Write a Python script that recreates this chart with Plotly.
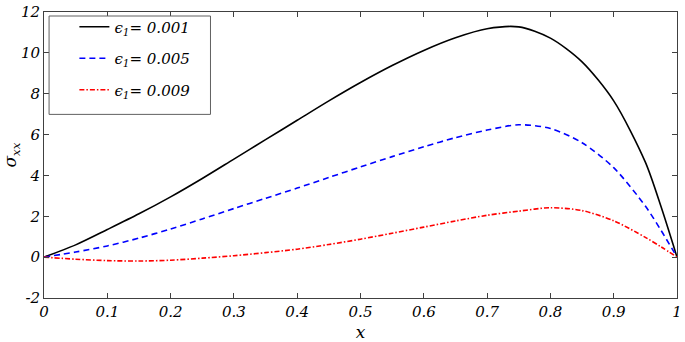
import plotly.graph_objects as go

x_black = [0, 0.05, 0.1, 0.15, 0.2, 0.25, 0.3, 0.35, 0.4, 0.45, 0.5, 0.55, 0.6, 0.65, 0.7, 0.75,
           0.8, 0.85, 0.9, 0.95, 0.975, 1.0]
y_black = [0, 0.6, 1.35, 2.12, 2.95, 3.85, 4.8, 5.75, 6.7, 7.65, 8.55, 9.38, 10.12, 10.74, 11.18, 11.27,
           10.72, 9.56, 7.65, 4.65, 2.45, 0]

x_blue = [0, 0.05, 0.1, 0.15, 0.2, 0.25, 0.3, 0.35, 0.4, 0.45, 0.5, 0.55, 0.6, 0.65, 0.7, 0.75,
          0.8, 0.85, 0.9, 0.95, 0.975, 1.0]
y_blue = [0, 0.25, 0.55, 0.93, 1.38, 1.87, 2.38, 2.88, 3.38, 3.9, 4.42, 4.92, 5.4, 5.85, 6.22, 6.48,
          6.3, 5.6, 4.38, 2.5, 1.3, 0]

x_red = [0, 0.05, 0.1, 0.15, 0.2, 0.25, 0.3, 0.35, 0.4, 0.45, 0.5, 0.55, 0.6, 0.65, 0.7, 0.75,
         0.8, 0.85, 0.9, 0.95, 0.975, 1.0]
y_red = [0, -0.1, -0.17, -0.19, -0.15, -0.05, 0.07, 0.22, 0.39, 0.62, 0.88, 1.17, 1.47, 1.77, 2.05, 2.25,
         2.42, 2.28, 1.78, 0.97, 0.5, 0]

names = ["<i>ϵ</i><sub><i>1</i></sub><i>= 0.001</i>",
         "<i>ϵ</i><sub><i>1</i></sub><i>= 0.005</i>",
         "<i>ϵ</i><sub><i>1</i></sub><i>= 0.009</i>"]

x_ticks = [0, 0.1, 0.2, 0.3, 0.4, 0.5, 0.6, 0.7, 0.8, 0.9, 1]
x_tick_text = ["0", "0.1", "0.2", "0.3", "0.4", "0.5", "0.6", "0.7", "0.8", "0.9", "1"]
y_ticks = [-2, 0, 2, 4, 6, 8, 10, 12]
y_tick_text = ["-2", "0", "2", "4", "6", "8", "10", "12"]

SERIF = "DejaVu Serif"

fig = go.Figure()
fig.add_trace(go.Scatter(x=x_black, y=y_black, mode="lines", name=names[0], legendgroup="a",
                         line=dict(color="black", width=1.6, shape="spline", smoothing=0.8)))
fig.add_trace(go.Scatter(x=x_blue, y=y_blue, mode="lines", name=names[1], legendgroup="b",
                         line=dict(color="#0000ff", width=1.6, dash="6px,4px", shape="spline", smoothing=0.8)))
fig.add_trace(go.Scatter(x=x_red, y=y_red, mode="lines", name=names[2], legendgroup="c",
                         line=dict(color="#ff0000", width=1.6, dash="5px,2px,1.5px,2px", shape="spline", smoothing=0.8)))

axis_common = dict(
    showline=True, linecolor="#404040", linewidth=1, mirror="ticks",
    ticks="inside", ticklen=5, tickcolor="#404040", showgrid=False, zeroline=False,
    ticklabeloverflow="allow",
    tickfont=dict(family=SERIF, size=15, color="black", style="italic"),
)

fig.add_shape(type="rect", xref="paper", yref="paper", x0=0.008, x1=0.263, y0=0.642, y1=0.986,
              line=dict(color="#606060", width=1), fillcolor="white", layer="above")

fig.update_layout(
    width=685, height=342,
    margin=dict(l=44, r=3, t=5, b=44),
    paper_bgcolor="white", plot_bgcolor="white",
    font=dict(family=SERIF, color="black", size=15),
    xaxis=dict(range=[0, 1], tickvals=x_ticks, ticktext=x_tick_text,
               title=dict(text="<i>x</i>", font=dict(family=SERIF, size=17), standoff=6),
               **axis_common),
    yaxis=dict(range=[-2, 12], tickvals=y_ticks, ticktext=y_tick_text,
               title=dict(text="<i>σ</i><sub><i>xx</i></sub>", font=dict(family=SERIF, size=17), standoff=6),
               **axis_common),
    legend=dict(x=0.048, y=1.005, xanchor="left", yanchor="top",
                bgcolor="rgba(0,0,0,0)", borderwidth=0,
                font=dict(family=SERIF, size=15, color="black"),
                tracegroupgap=9, itemwidth=30),
    showlegend=True,
)

fig.write_html("out.html", config={"displayModeBar": False},
               post_script="document.body.style.margin='0';document.body.style.padding='0';")
